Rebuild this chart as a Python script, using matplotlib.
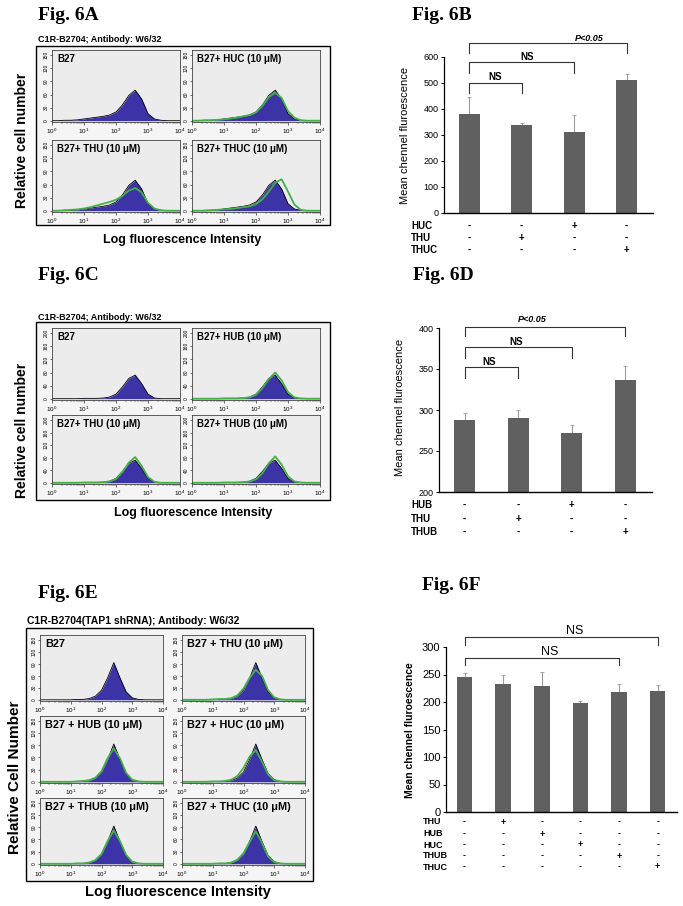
import numpy as np
import matplotlib
matplotlib.use('Agg')
import matplotlib.pyplot as plt
from matplotlib.patches import Rectangle
from matplotlib.transforms import blended_transform_factory

plt.rcParams['font.family'] = ['Liberation Sans', 'DejaVu Sans']

# ---- histogram data (log10 fluorescence grid, cell counts) ----
LOGX = [0.0, 0.2, 0.4, 0.6, 0.8, 1.0, 1.2, 1.4, 1.6, 1.8, 2.0,
        2.2, 2.4, 2.6, 2.8, 3.0, 3.2, 3.4, 3.6, 3.8, 4.0]

# Fig 6A
a_b27 = [0, 0, 1, 1, 2, 4, 6, 8, 10, 13, 20, 36, 58, 70, 50, 16, 4, 1, 0, 0, 0]
a_huc = [0, 0, 1, 1, 2, 3, 5, 7, 10, 13, 19, 34, 54, 64, 52, 22, 7, 1, 0, 0, 0]
a_thu = [0, 0, 1, 2, 3, 5, 8, 12, 16, 20, 25, 34, 46, 52, 42, 18, 5, 1, 0, 0, 0]
a_thuc = [0, 0, 0, 1, 2, 3, 4, 6, 8, 10, 15, 26, 44, 64, 72, 44, 14, 2, 0, 0, 0]
a_labels = ['B27', 'B27+ HUC (10 \u03bcM)', 'B27+ THU (10 \u03bcM)', 'B27+ THUC (10 \u03bcM)']

# Fig 6C
c_b27 = [0, 0, 0, 0, 0, 1, 1, 1, 2, 5, 14, 36, 62, 72, 46, 14, 2, 0, 0, 0, 0]
c_hub = [0, 0, 0, 0, 0, 1, 1, 1, 2, 4, 12, 32, 60, 80, 56, 20, 4, 1, 0, 0, 0]
c_thu = [0, 0, 0, 0, 0, 1, 1, 1, 2, 4, 12, 34, 64, 82, 54, 18, 3, 0, 0, 0, 0]
c_thub = [0, 0, 0, 0, 0, 1, 1, 1, 2, 4, 11, 30, 62, 84, 58, 20, 4, 1, 0, 0, 0]
c_labels = ['B27', 'B27+ HUB (10 \u03bcM)', 'B27+ THU (10 \u03bcM)', 'B27+ THUB (10 \u03bcM)']

# Fig 6E
e_b27 = [0, 0, 0, 0, 0, 0, 1, 1, 3, 9, 24, 55, 93, 55, 20, 5, 1, 0, 0, 0, 0]
e_thu = [0, 0, 0, 0, 0, 1, 2, 2, 4, 11, 28, 55, 75, 60, 24, 6, 1, 0, 0, 0, 0]
e_hub = [0, 0, 0, 0, 0, 0, 1, 2, 4, 10, 26, 58, 82, 58, 22, 5, 1, 0, 0, 0, 0]
e_huc = [0, 0, 0, 0, 0, 1, 1, 2, 5, 14, 34, 62, 78, 50, 18, 4, 1, 0, 0, 0, 0]
e_thub = [0, 0, 0, 0, 0, 0, 1, 1, 3, 9, 24, 56, 82, 56, 22, 5, 1, 0, 0, 0, 0]
e_thuc = [0, 0, 0, 0, 0, 0, 1, 1, 3, 10, 26, 54, 80, 52, 18, 4, 1, 0, 0, 0, 0]
e_labels = ['B27', 'B27 + THU (10 \u03bcM)', 'B27 + HUB (10 \u03bcM)',
            'B27 + HUC (10 \u03bcM)', 'B27 + THUB (10 \u03bcM)', 'B27 + THUC (10 \u03bcM)']

# ---- bar chart data ----
b_vals = [380, 338, 310, 512]
b_errs = [65, 7, 66, 23]
b_rows = ['HUC', 'THU', 'THUC']
b_signs = [['-', '-', '+', '-'], ['-', '+', '-', '-'], ['-', '-', '-', '+']]

d_vals = [288, 290, 272, 337]
d_errs = [8, 10, 10, 17]
d_rows = ['HUB', 'THU', 'THUB']
d_signs = [['-', '-', '+', '-'], ['-', '+', '-', '-'], ['-', '-', '-', '+']]

f_vals = [245, 233, 230, 199, 219, 220]
f_errs = [7, 16, 24, 2, 14, 11]
f_rows = ['THU', 'HUB', 'HUC', 'THUB', 'THUC']
f_signs = [['-', '+', '-', '-', '-', '-'], ['-', '-', '+', '-', '-', '-'],
           ['-', '-', '-', '+', '-', '-'], ['-', '-', '-', '-', '+', '-'],
           ['-', '-', '-', '-', '-', '+']]

BLUE = '#3b33a6'
GREEN = '#45b04a'
BAR = '#606060'

W, H = 683, 906
fig = plt.figure(figsize=(W / 100, H / 100), dpi=100)


def add_ax(x0, y0, x1, y1):
    return fig.add_axes([x0 / W, 1 - y1 / H, (x1 - x0) / W, (y1 - y0) / H])


def ftext(x, y, s, **kw):
    kw.setdefault('va', 'center')
    fig.text(x / W, 1 - y / H, s, **kw)


def box(x0, y0, x1, y1):
    fig.add_artist(Rectangle((x0 / W, 1 - y1 / H), (x1 - x0) / W, (y1 - y0) / H,
                             transform=fig.transFigure, fc='#f5f5f5', ec='black',
                             lw=1.0, zorder=-1))


def hist_panel(rect, label, ctrl, treat, ymax, yticks, label_fs=7):
    ax = add_ax(*rect)
    ax.set_facecolor('#ececec')
    xs = np.power(10.0, LOGX)
    ax.fill_between(xs, ctrl, color=BLUE, lw=0)
    ax.plot(xs, ctrl, color='black', lw=0.6)
    if treat is not None:
        ax.plot(xs, treat, color=GREEN, lw=1.3)
    ax.set_xscale('log')
    ax.set_xlim(1, 1e4)
    ax.set_ylim(-ymax * 0.02, ymax * 1.08)
    ax.set_yticks(yticks)
    ax.set_yticklabels([str(t) for t in yticks], rotation=90, fontsize=3.5, va='center')
    ax.tick_params(axis='y', length=1.5, width=0.4, pad=1)
    ax.tick_params(axis='x', which='major', labelsize=4.5, length=2, width=0.4, pad=1.5)
    ax.tick_params(axis='x', which='minor', length=1.2, width=0.3)
    for s in ax.spines.values():
        s.set_linewidth(0.6)
        s.set_color('#444444')
    ax.text(0.04, 0.94, label, transform=ax.transAxes, fontsize=label_fs,
            fontweight='bold', va='top')
    return ax


def bracket(ax, x0, x1, y_hi, y_lo):
    ax.plot([x0, x0, x1, x1], [y_lo, y_hi, y_hi, y_lo], color='#333333', lw=0.8, clip_on=False)


def bar_panel(rect, vals, errs, ylim, yticks, rows, signs, row_x, row_ys,
              tick_fs=6.5, row_fs=7):
    ax = add_ax(*rect)
    xs = list(range(len(vals)))
    ax.bar(xs, [v - ylim[0] for v in vals], width=0.4, bottom=ylim[0], color=BAR, zorder=2)
    ax.errorbar(xs, vals, yerr=[[0] * len(vals), errs], fmt='none', ecolor='#9a9a9a',
                elinewidth=0.8, capsize=1.5, capthick=0.6, zorder=1)
    ax.set_xlim(-0.48, len(vals) - 0.5)
    ax.set_ylim(*ylim)
    ax.set_yticks(yticks)
    ax.set_xticks([])
    ax.spines['top'].set_visible(False)
    ax.spines['right'].set_visible(False)
    ax.spines['left'].set_linewidth(0.9)
    ax.spines['bottom'].set_linewidth(1.0)
    ax.tick_params(axis='y', labelsize=tick_fs, length=2, width=0.7, pad=2)
    tr = blended_transform_factory(ax.transData, fig.transFigure)
    for name, sg, y in zip(rows, signs, row_ys):
        ftext(row_x, y, name, fontsize=row_fs, fontweight='bold', ha='left')
        for i, s in enumerate(sg):
            ax.text(i, 1 - y / H, s, transform=tr, ha='center', va='center',
                    fontsize=row_fs, fontweight='bold')
    return ax


serif = dict(family=['Liberation Serif', 'DejaVu Serif'], fontweight='bold', fontsize=14)

# ---------------- Fig 6A ----------------
ftext(38, 15, 'Fig. 6A', ha='left', **serif)
ftext(38, 40, 'C1R-B2704; Antibody: W6/32', ha='left', fontsize=6.5, fontweight='bold')
box(36, 46, 330, 225)
a_rects = [(52, 50, 180, 122), (192, 50, 320, 122), (52, 140, 180, 212), (192, 140, 320, 212)]
for r, lab, tr in zip(a_rects, a_labels, [None, a_huc, a_thu, a_thuc]):
    hist_panel(r, lab, a_b27, tr, 150, [0, 30, 60, 90, 120, 150])
ftext(22, 140, 'Relative cell number', rotation=90, ha='center', fontsize=10, fontweight='bold')
ftext(182, 240, 'Log fluorescence Intensity', ha='center', fontsize=9, fontweight='bold')

# ---------------- Fig 6C ----------------
ftext(38, 275, 'Fig. 6C', ha='left', **serif)
ftext(38, 317, 'C1R-B2704; Antibody: W6/32', ha='left', fontsize=6.5, fontweight='bold')
box(36, 322, 330, 500)
c_rects = [(52, 328, 180, 400), (192, 328, 320, 400), (52, 415, 180, 484), (192, 415, 320, 484)]
for r, lab, tr in zip(c_rects, c_labels, [None, c_hub, c_thu, c_thub]):
    hist_panel(r, lab, c_b27, tr, 200, [0, 40, 80, 120, 160, 200])
ftext(22, 430, 'Relative cell number', rotation=90, ha='center', fontsize=10, fontweight='bold')
ftext(193, 513, 'Log fluorescence Intensity', ha='center', fontsize=9, fontweight='bold')

# ---------------- Fig 6E ----------------
ftext(38, 593, 'Fig. 6E', ha='left', **serif)
ftext(27, 621, 'C1R-B2704(TAP1 shRNA); Antibody: W6/32', ha='left', fontsize=7.5, fontweight='bold')
box(26, 628, 313, 881)
e_rects = [(40, 635, 163, 701), (182, 635, 305, 701),
           (40, 716, 163, 783), (182, 716, 305, 783),
           (40, 798, 163, 865), (182, 798, 305, 865)]
for r, lab, tr in zip(e_rects, e_labels, [None, e_thu, e_hub, e_huc, e_thub, e_thuc]):
    hist_panel(r, lab, e_b27, tr, 150, [0, 30, 60, 90, 120, 150], label_fs=7.8)
ftext(15, 777, 'Relative Cell Number', rotation=90, ha='center', fontsize=11, fontweight='bold')
ftext(178, 892, 'Log fluorescence Intensity', ha='center', fontsize=10.5, fontweight='bold')

# ---------------- Fig 6B ----------------
ftext(412, 15, 'Fig. 6B', ha='left', **serif)
axb = bar_panel((444, 57, 653, 213), b_vals, b_errs, (0, 600), list(range(0, 601, 100)),
                b_rows, b_signs, 411, [226, 238, 250])
ftext(405, 135, 'Mean chennel fluroescence', rotation=90, ha='center', fontsize=8)
bracket(axb, 0, 3, 654, 615)
bracket(axb, 0, 2, 581, 538)
bracket(axb, 0, 1, 500, 461)
axb.text(2.28, 673, 'P<0.05', ha='center', va='center', fontsize=6.5, style='italic', fontweight='bold')
axb.text(1.1, 600, 'NS', ha='center', va='center', fontsize=7, fontweight='bold')
axb.text(0.5, 523, 'NS', ha='center', va='center', fontsize=7, fontweight='bold')

# ---------------- Fig 6D ----------------
ftext(413, 275, 'Fig. 6D', ha='left', **serif)
axd = bar_panel((439, 328, 652, 492), d_vals, d_errs, (200, 400), list(range(200, 401, 50)),
                d_rows, d_signs, 411, [505, 519, 532])
ftext(400, 407, 'Mean chennel fluroescence', rotation=90, ha='center', fontsize=8)
bracket(axd, 0, 3, 401, 390)
bracket(axd, 0, 2, 377, 364)
bracket(axd, 0, 1, 352, 339)
axd.text(1.26, 410, 'P<0.05', ha='center', va='center', fontsize=6.5, style='italic', fontweight='bold')
axd.text(0.96, 383, 'NS', ha='center', va='center', fontsize=7, fontweight='bold')
axd.text(0.45, 358, 'NS', ha='center', va='center', fontsize=7, fontweight='bold')

# ---------------- Fig 6F ----------------
ftext(422, 585, 'Fig. 6F', ha='left', **serif)
axf = bar_panel((446, 647, 677, 812), f_vals, f_errs, (0, 300), list(range(0, 301, 50)),
                f_rows, f_signs, 423, [822, 834, 845, 856, 867], tick_fs=8, row_fs=6.5)
ftext(410, 730, 'Mean chennel fluroescence', rotation=90, ha='center', fontsize=7.5, fontweight='bold')
bracket(axf, 0, 5, 318, 304)
bracket(axf, 0, 4, 280, 268)
axf.text(2.86, 329, 'NS', ha='center', va='center', fontsize=9)
axf.text(2.2, 291, 'NS', ha='center', va='center', fontsize=9)

fig.savefig('out.png', dpi=100)
